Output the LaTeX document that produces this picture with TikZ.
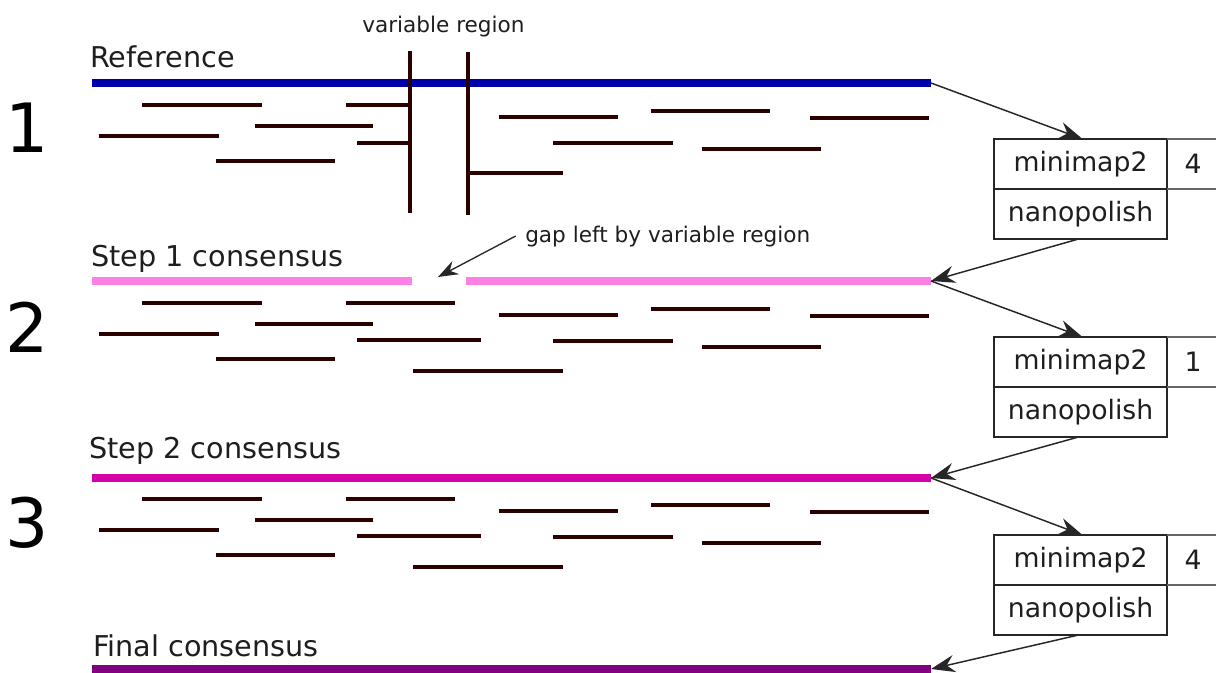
\documentclass[tikz,border=0pt]{standalone}
\usepackage{fontspec}
\setmainfont{DejaVu Sans}
\usetikzlibrary{arrows.meta}
\definecolor{refblue}{RGB}{0,0,170}
\definecolor{pinkA}{RGB}{255,128,229}
\definecolor{magB}{RGB}{212,0,170}
\definecolor{purpC}{RGB}{128,0,128}
\definecolor{readc}{RGB}{43,0,0}
\definecolor{txt}{RGB}{30,30,30}
\tikzset{
  readline/.style={draw=readc, line width=3pt},
  consline/.style={line width=6pt},
  heading/.style={anchor=base west, inner sep=0pt, font=\fontsize{21.5}{24}\selectfont, text=txt},
  smalllabel/.style={anchor=base west, inner sep=0pt, font=\fontsize{16.2}{19}\selectfont, text=txt},
  bignum/.style={inner sep=0pt, font=\fontsize{51}{56}\selectfont},
  cell/.style={draw=black!85, line width=1.1pt, outer sep=0pt, minimum width=129.75pt, minimum height=37.5pt, inner sep=0pt, font=\fontsize{20}{24}\selectfont, text=txt},
  countcell/.style={inner sep=0pt, font=\fontsize{20}{24}\selectfont, text=txt},
  flow/.style={draw=black!85, line width=1.1pt, -{Stealth[length=18pt,width=13pt,inset=6pt]}},
}
\begin{document}
\begin{tikzpicture}[x=0.75pt,y=-0.75pt]
\useasboundingbox (0,0) rectangle (1216,672);

% big step numbers
\node[bignum] (num1) at (27,128) {1};
\node[bignum] (num2) at (27,327) {2};
\node[bignum] (num3) at (27,523) {3};

% headings
\node[heading] (hRef) at (90,67) {Reference};
\node[heading] (hS1) at (91,266) {Step 1 consensus};
\node[heading] (hS2) at (89,458) {Step 2 consensus};
\node[heading] (hFin) at (93,656) {Final consensus};
\node[smalllabel] (varlab) at (362,32) {variable region};
\node[smalllabel] (gaplab) at (525,242) {gap left by variable region};

% consensus lines
\draw[consline, draw=refblue] (92,83) -- (931,83);
\draw[consline, draw=pinkA] (92,281) -- (412,281);
\draw[consline, draw=pinkA] (466,281) -- (931,281);
\draw[consline, draw=magB] (92,478) -- (931,478);
\draw[consline, draw=purpC] (92,669) -- (931,669);

\coordinate (e0) at (931,83);
\coordinate (e1) at (931,281);
\coordinate (e2) at (931,478);
\coordinate (e3) at (931,669);
\coordinate (gapTip) at (438,277);

% common reads in all three sections
\foreach \dy in {0,198,394}{
  \foreach \xa/\xb/\yy in {142/262/105, 255/373/126, 99/219/136, 216/335/161,
                           499/618/117, 651/770/111, 810/929/118, 553/673/143, 702/821/149}{
    \draw[readline] (\xa,\yy+\dy) -- (\xb,\yy+\dy);
  }
}
% section 1: reads stopping at variable region
\draw[readline] (346,105) -- (410,105);
\draw[readline] (357,143) -- (410,143);
\draw[readline] (468,173) -- (563,173);
\draw[readline] (410,51) -- (410,213);
\draw[readline] (468,52) -- (468,215);
% sections 2 and 3: full reads
\foreach \dy in {198,394}{
  \draw[readline] (346,105+\dy) -- (455,105+\dy);
  \draw[readline] (357,142+\dy) -- (481,142+\dy);
  \draw[readline] (413,173+\dy) -- (563,173+\dy);
}

% tool boxes
\foreach \i/\y/\c in {1/164/4, 2/362/1, 3/560/4}{
  \node[cell] (m\i) at (1080.5,\y) {minimap2};
  \node[cell, anchor=north] (n\i) at (m\i.south) {nanopolish};
  \draw[black!60, line width=1pt] (m\i.north east) -- (m\i.north east -| 1216,0);
  \draw[black!60, line width=1pt] (m\i.south east) -- (m\i.south east -| 1216,0);
  \node[countcell] (c\i) at (1193,\y) {\c};
}

% flow arrows
\draw[flow] (e0) -- ([xshift=1.5pt]m1.north);
\draw[flow] ([xshift=-1.5pt]n1.south) -- (e1);
\draw[flow] (e1) -- ([xshift=1.5pt]m2.north);
\draw[flow] ([xshift=-1.5pt]n2.south) -- (e2);
\draw[flow] (e2) -- ([xshift=1.5pt]m3.north);
\draw[flow] ([xshift=-1.5pt]n3.south) -- (e3);

% gap annotation
\draw[draw=black!85, line width=1pt, -{Stealth[length=15pt,width=11pt,inset=5pt]}] ([xshift=-7pt]gaplab.west) -- (gapTip);
\end{tikzpicture}
\end{document}
